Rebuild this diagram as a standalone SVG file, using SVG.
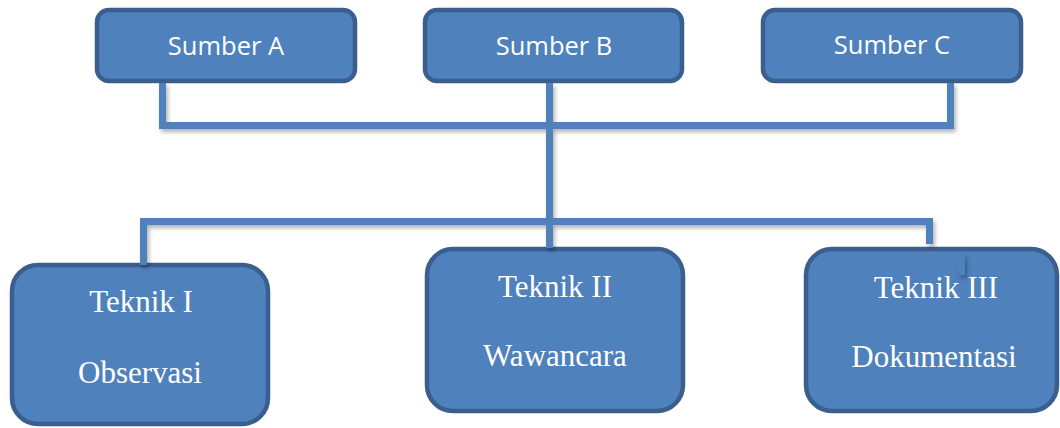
<svg xmlns="http://www.w3.org/2000/svg" width="1060" height="428" viewBox="0 0 1060 428">
  <defs>
    <filter id="sh" x="-10%" y="-10%" width="130%" height="140%">
      <feDropShadow dx="2" dy="3" stdDeviation="2" flood-color="#000" flood-opacity="0.3"/>
    </filter>
  </defs>
  <style>
    .box { fill: #4f81bd; stroke: #3a5f8e; stroke-width: 4.5; }
    .conn { fill: #4f81bd; }
    .sans { font-family: "Open Sans", "Noto Sans", sans-serif; font-size: 25.5px; fill: #ffffff; text-anchor: middle; }
    .serif { font-family: "Liberation Serif", "Times New Roman", serif; font-size: 31px; fill: #ffffff; text-anchor: middle; }
  </style>
  <rect width="1060" height="428" fill="#ffffff"/>

  <g id="sumber-a">
    <rect class="box" x="97" y="10" width="258" height="71" rx="12"/>
    <text class="sans" x="226" y="55">Sumber A</text>
  </g>
  <g id="sumber-b">
    <rect class="box" x="425" y="10" width="257" height="71" rx="12"/>
    <text class="sans" x="554" y="55">Sumber B</text>
  </g>
  <g id="sumber-c">
    <rect class="box" x="763" y="10" width="258" height="71" rx="12"/>
    <text class="sans" x="892" y="54">Sumber C</text>
  </g>

  <g id="teknik-1">
    <rect class="box" x="12" y="265" width="256" height="159" rx="26"/>
    <text class="serif" x="141" y="312">Teknik I</text>
    <text class="serif" x="140" y="383">Observasi</text>
  </g>
  <g id="teknik-2">
    <rect class="box" x="427" y="249" width="256" height="162" rx="26"/>
    <text class="serif" x="555" y="297">Teknik II</text>
    <text class="serif" x="555" y="366">Wawancara</text>
  </g>
  <g id="teknik-3">
    <rect class="box" x="806" y="249" width="251" height="162" rx="26"/>
    <text class="serif" x="936" y="298">Teknik III</text>
    <text class="serif" x="934" y="367">Dokumentasi</text>
  </g>

  <g id="connectors" filter="url(#sh)">
    <rect class="conn" x="159" y="83" width="7" height="46"/>
    <rect class="conn" x="947" y="83" width="7" height="46"/>
    <rect class="conn" x="159" y="122" width="795" height="7"/>
    <rect class="conn" x="546" y="83" width="7" height="165"/>
    <rect class="conn" x="140" y="218" width="793" height="7"/>
    <rect class="conn" x="140" y="218" width="7" height="47"/>
    <rect class="conn" x="926" y="218" width="7" height="26"/>
    <rect class="conn" x="958" y="255" width="7" height="20"/>
  </g>
</svg>
